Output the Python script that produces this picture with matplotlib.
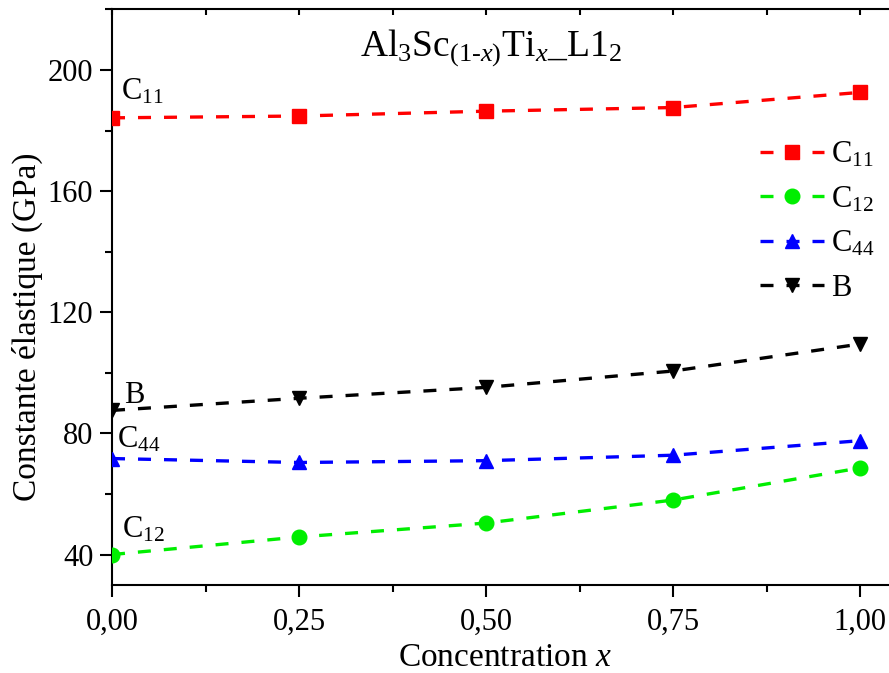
import matplotlib.pyplot as plt
import numpy as np

# concentration x
conc = [0.0, 0.25, 0.5, 0.75, 1.0]
# elastic constants (GPa)
c11 = [184.2, 184.8, 186.4, 187.6, 192.6]
c12 = [40.0, 45.8, 50.4, 58.0, 68.6]
c44 = [71.7, 70.4, 71.0, 72.8, 77.6]
bulk = [87.6, 91.6, 95.2, 100.6, 109.5]

x_ticks = [0.0, 0.25, 0.5, 0.75, 1.0]
x_tick_labels = ["0,00", "0,25", "0,50", "0,75", "1,00"]
y_ticks = [40, 80, 120, 160, 200]

plt.rcParams['font.family'] = ['Liberation Serif', 'DejaVu Serif']
plt.rcParams['mathtext.fontset'] = 'custom'
plt.rcParams['mathtext.rm'] = 'Liberation Serif'
plt.rcParams['mathtext.it'] = 'Liberation Serif:italic'

fig = plt.figure(figsize=(8.89, 6.73), dpi=100)
ax = fig.add_axes([0.126, 0.131, 1.0095 - 0.126, 0.986 - 0.131])

series = [
    (c11, 'red', 's', r'C$_{11}$'),
    (c12, '#00ee00', 'o', r'C$_{12}$'),
    (c44, 'blue', '^', r'C$_{44}$'),
    (bulk, 'black', 'v', 'B'),
]
for vals, col, mk, lab in series:
    ax.plot(conc, vals, ls=(0, (3.9, 3.9)), lw=2.4, color=col, marker=mk,
            markersize=10.5, label=lab, zorder=3)

ax.set_xlim(0, 1.05)
ax.set_ylim(30, 220)
ax.set_xticks(x_ticks)
ax.set_xticklabels(x_tick_labels)
ax.set_xticks([0.125, 0.375, 0.625, 0.875], minor=True)
ax.set_yticks(y_ticks)
ax.set_yticks([60, 100, 140, 180, 220], minor=True)
ax.tick_params(axis='both', which='major', labelsize=22, length=8.5, width=1.5,
               direction='out')
ax.tick_params(axis='x', which='major', pad=8)
ax.tick_params(axis='y', which='major', pad=5)
ax.tick_params(axis='both', which='minor', length=5, width=1.5, direction='out')
ax.tick_params(axis='x', which='both', top=True)
for t in ax.xaxis.get_major_ticks() + ax.xaxis.get_minor_ticks():
    t.tick2line.set_marker(3)
    t.tick2line.set_markersize(4)
for s in ax.spines.values():
    s.set_linewidth(1.5)

ax.set_xlabel(r'Concentration $x$', fontsize=24, labelpad=4)
ax.set_ylabel('Constante élastique (GPa)', fontsize=24)
ax.yaxis.set_label_coords(-0.088, 0.448)

ax.text(0.507, 205, r'Al$_3$Sc$_{(1\text{-}x)}$Ti$_x$_L1$_2$', fontsize=27,
        ha='center', va='baseline')

ax.text(0.012, 190.1, r'C$_{11}$', fontsize=22, ha='left', va='baseline')
ax.text(0.016, 89.9, 'B', fontsize=22, ha='left', va='baseline')
ax.text(0.007, 75.4, r'C$_{44}$', fontsize=22, ha='left', va='baseline')
ax.text(0.013, 45.6, r'C$_{12}$', fontsize=22, ha='left', va='baseline')

ax.legend(loc='upper left', bbox_to_anchor=(0.805, 0.80), frameon=False,
          borderpad=0, fontsize=22, handlelength=2.1, labelspacing=0.5,
          handletextpad=0.25)

fig.savefig('out.png', dpi=100)
